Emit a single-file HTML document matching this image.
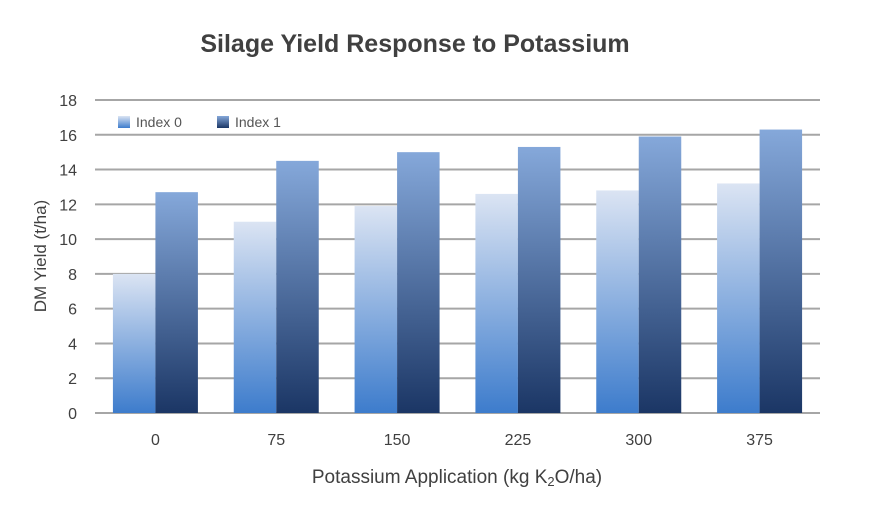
<!DOCTYPE html>
<html><head><meta charset="utf-8"><style>
body{margin:0;background:#fff;font-family:"Liberation Sans",sans-serif}
</style></head><body>
<svg id="chart" width="880" height="506" xmlns="http://www.w3.org/2000/svg">
<defs>
<linearGradient id="g0" x1="0" y1="0" x2="0" y2="1"><stop offset="0" stop-color="#dbe4f3"/><stop offset="1" stop-color="#3d7ccc"/></linearGradient>
<linearGradient id="g1" x1="0" y1="0" x2="0" y2="1"><stop offset="0" stop-color="#85a8da"/><stop offset="1" stop-color="#1b3665"/></linearGradient>
</defs>
<text x="415" y="52" text-anchor="middle" font-size="25" font-weight="bold" fill="#404040">Silage Yield Response to Potassium</text>
<text transform="translate(46,256) rotate(-90)" text-anchor="middle" font-size="17" fill="#404040">DM Yield (t/ha)</text>
<text x="457" y="483" text-anchor="middle" font-size="19" fill="#404040">Potassium Application (kg K<tspan font-size="13" dy="3">2</tspan><tspan dy="-3">O/ha)</tspan></text>
<g id="grid"></g><g id="bars"></g><g id="xt"></g>
<g>
<rect x="118" y="116" width="12" height="12" fill="url(#g0)"/>
<text x="136" y="127" font-size="14" fill="#555">Index 0</text>
<rect x="217" y="116" width="12" height="12" fill="url(#g1)"/>
<text x="235" y="127" font-size="14" fill="#555">Index 1</text>
</g>
</svg>
<script>
const categories=["0","75","150","225","300","375"];
const index0=[8.0,11.0,11.9,12.6,12.8,13.2];
const index1=[12.7,14.5,15.0,15.3,15.9,16.3];
const yTicks=[0,2,4,6,8,10,12,14,16,18];
const NS="http://www.w3.org/2000/svg";
const L=95,R=820,Y0=413,Y18=100;
const y=v=>Y0-(v/18)*(Y0-Y18);
const gw=(R-L)/categories.length;
const x=i=>L+gw*i+gw/2;
function mk(t,a,p){const e=document.createElementNS(NS,t);for(const k in a)e.setAttribute(k,a[k]);p.appendChild(e);return e;}
const grid=document.getElementById('grid'),bars=document.getElementById('bars'),xt=document.getElementById('xt');
yTicks.forEach(v=>{
 const l=mk('line',{x1:L,x2:R,y1:y(v),y2:y(v),stroke:'#a6a6a6','stroke-width':2},grid);
 
 
 const t=mk('text',{x:77,y:y(v)+6,'text-anchor':'end','font-size':16,fill:'#404040'},grid);
 t.textContent=v;
 
 
});
const bw=42.5;
categories.forEach((c,i)=>{
 const a=mk('rect',{x:x(i)-bw,y:y(index0[i]),width:bw,height:Y0-y(index0[i]),fill:'url(#g0)'},bars);
 
 
 const b=mk('rect',{x:x(i),y:y(index1[i]),width:bw,height:Y0-y(index1[i]),fill:'url(#g1)'},bars);
 
 
 const t=mk('text',{x:x(i),y:445,'text-anchor':'middle','font-size':16,fill:'#404040'},xt);
 t.textContent=c;
 
 
});
</script>
</body></html>
